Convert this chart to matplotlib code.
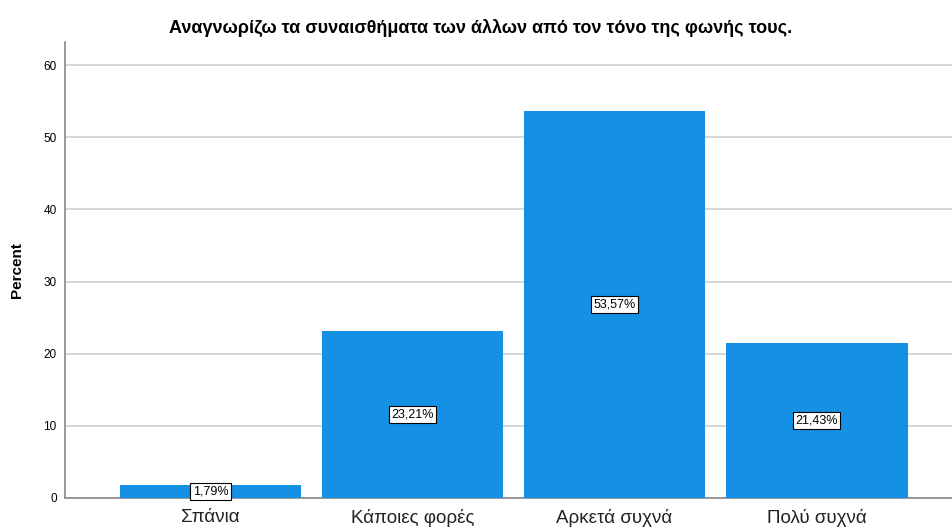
import matplotlib
matplotlib.use("Agg")
import matplotlib.pyplot as plt

categories = ["Σπάνια", "Κάποιες φορές", "Αρκετά συχνά", "Πολύ συχνά"]
percents = [1.79, 23.21, 53.57, 21.43]
labels = ["1,79%", "23,21%", "53,57%", "21,43%"]
yticks = [0, 10, 20, 30, 40, 50, 60]
title = "Αναγνωρίζω τα συναισθήματα των άλλων από τον τόνο της φωνής τους."

plt.rcParams['font.family'] = ['Liberation Sans', 'DejaVu Sans']

fig = plt.figure(figsize=(9.52, 5.27), dpi=100)
ax = fig.add_axes([65/952, 1-498/527, 1-65/952, (498-42)/527])

x = list(range(len(categories)))
ax.bar(x, percents, width=0.9, color='#1490E4', zorder=3)
for xi, v, lab in zip(x, percents, labels):
    ax.text(xi, v/2, lab, ha='center', va='center', fontsize=9, zorder=4,
            bbox=dict(boxstyle='square,pad=0.2', fc='white', ec='black', lw=0.8))

ax.set_xlim(-0.72, 3.67)
ax.set_ylim(0, 63.2)
ax.set_yticks(yticks)
ax.set_yticklabels([str(t) for t in yticks], fontsize=8.5)
ax.set_xticks(x)
ax.set_xticklabels(categories, fontsize=13.5, color='#222222')
ax.tick_params(axis='x', length=0, pad=8)
ax.tick_params(axis='y', length=0, pad=6)
ax.grid(axis='y', color='#d0d0d0', lw=1.2, zorder=0)
for s in ['top', 'right']:
    ax.spines[s].set_visible(False)
for s in ['left', 'bottom']:
    ax.spines[s].set_color('#888888')
    ax.spines[s].set_linewidth(1.2)
ax.set_ylabel("Percent", fontsize=11, fontweight='bold', labelpad=14)
fig.text(0.505, 1-28/527, title, ha='center', va='center', fontsize=13, fontweight='bold')

fig.savefig("out.png", dpi=100)
